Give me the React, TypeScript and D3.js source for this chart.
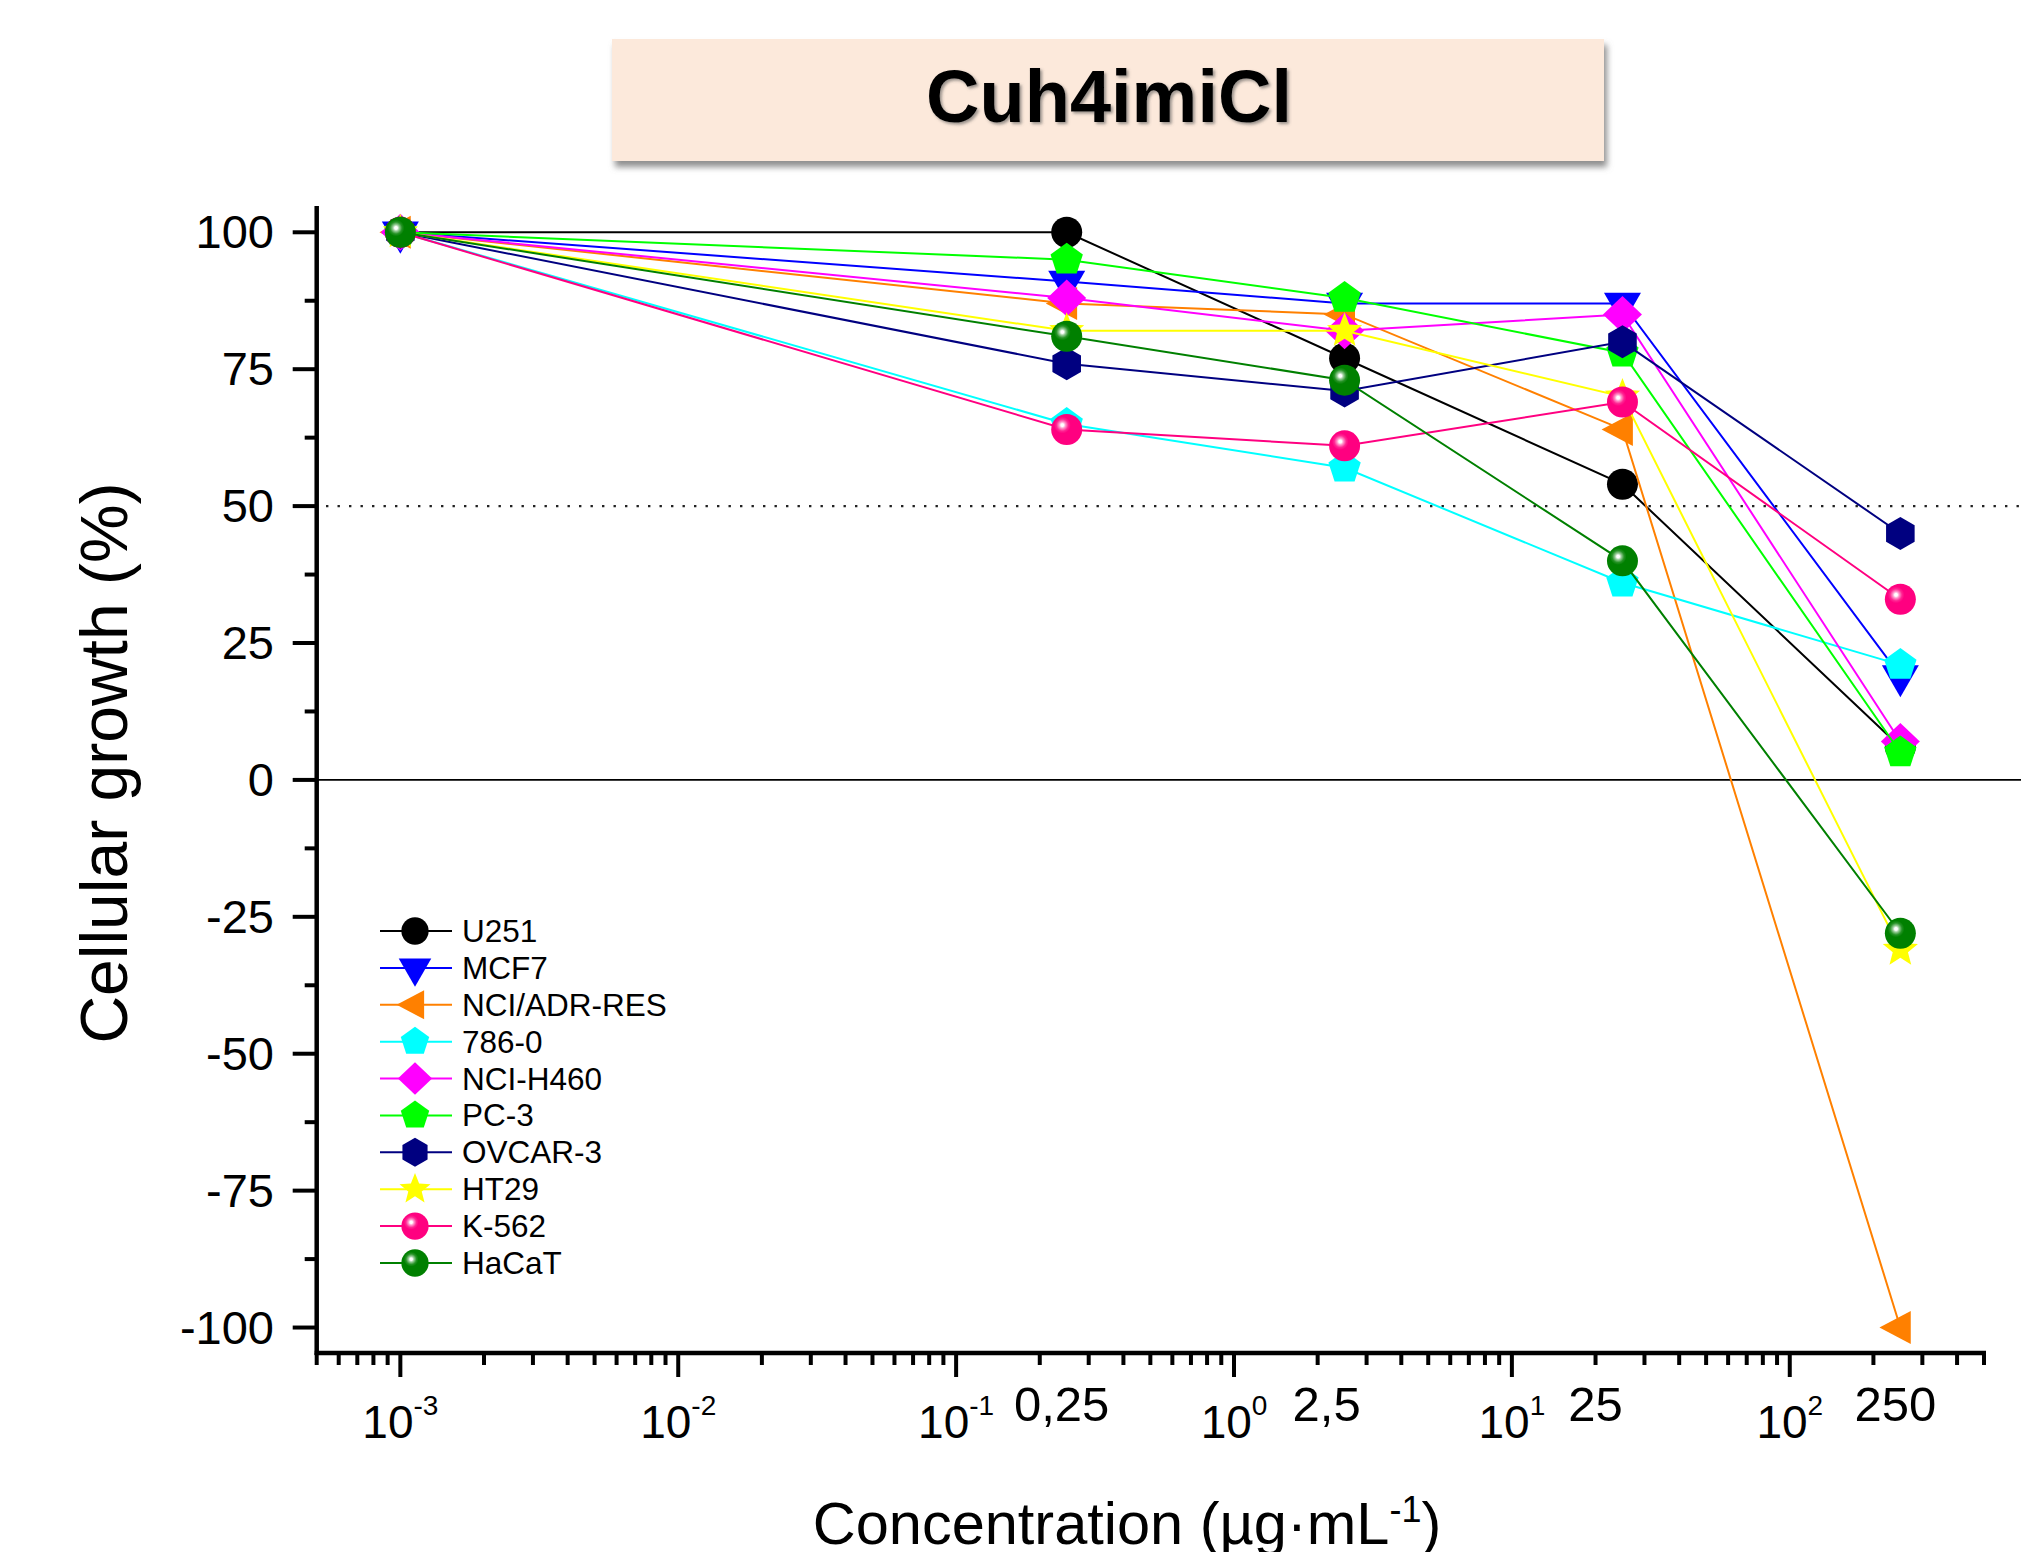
import React from 'react';
import * as d3 from 'd3';

// ---------- data ----------
const concentrations = [0.001, 0.25, 2.5, 25, 250];
const seriesNames = ['U251', 'MCF7', 'NCI/ADR-RES', '786-0', 'NCI-H460', 'PC-3', 'OVCAR-3', 'HT29', 'K-562', 'HaCaT'];
const u251 = [100, 100, 77, 54, 6];
const mcf7 = [100, 91, 87, 87, 19];
const nciAdrRes = [100, 87, 85, 64, -100];
const line7860 = [100, 65, 57, 36, 21];
const nciH460 = [100, 88, 82, 85, 7];
const pc3 = [100, 95, 88, 78, 5];
const ovcar3 = [100, 76, 71, 80, 45];
const ht29 = [100, 82, 82, 70, -31];
const k562 = [100, 64, 61, 69, 33];
const hacat = [100, 81, 73, 40, -28];
const seriesValues = [u251, mcf7, nciAdrRes, line7860, nciH460, pc3, ovcar3, ht29, k562, hacat];

const yTickValues = [-100, -75, -50, -25, 0, 25, 50, 75, 100];
const xDecadeExponents = [-3, -2, -1, 0, 1, 2];
const dataTickValues = [0.25, 2.5, 25, 250];
const dataTickLabels = ['0,25', '2,5', '25', '250'];
const title = 'Cuh4imiCl';
const referenceLine = 50;

// ---------- styles ----------
const colors = ['#000000', '#0000FF', '#FF8000', '#00FFFF', '#FF00FF', '#00FF00', '#000080', '#FFFF00', '#FF0080', '#008000'];
const shapes = ['circle', 'triDown', 'triLeft', 'pentagon', 'diamond', 'pentagon', 'hexagon', 'star', 'sphere', 'sphere'];
const dataTickDx = [-5, -18, -27, -5];
const FONT = '"Liberation Sans", Arial, Helvetica, sans-serif';

function polygon(pts: [number, number][]) {
  return 'M' + pts.map((p) => `${p[0].toFixed(2)},${p[1].toFixed(2)}`).join('L') + 'Z';
}

function regular(n: number, R: number, rot: number) {
  const pts: [number, number][] = [];
  for (let i = 0; i < n; i++) {
    const a = rot + (i * 2 * Math.PI) / n;
    pts.push([R * Math.sin(a), -R * Math.cos(a)]);
  }
  return polygon(pts);
}

function starPath(R: number, r: number) {
  const pts: [number, number][] = [];
  for (let i = 0; i < 10; i++) {
    const a = (i * Math.PI) / 5;
    const rr = i % 2 === 0 ? R : r;
    pts.push([rr * Math.sin(a), -rr * Math.cos(a)]);
  }
  return polygon(pts);
}

function shapePath(shape: string, k: number) {
  switch (shape) {
    case 'triDown':
      return polygon([[-18.5 * k, -10.7 * k], [18.5 * k, -10.7 * k], [0, 21.4 * k]]);
    case 'triLeft':
      return polygon([[-20.9 * k, 0], [10.4 * k, -16.5 * k], [10.4 * k, 16.5 * k]]);
    case 'pentagon':
      return regular(5, 17 * k, 0);
    case 'diamond':
      return polygon([[0, -18.5 * k], [19.5 * k, 0], [0, 18.5 * k], [-19.5 * k, 0]]);
    case 'hexagon':
      return regular(6, 16.5 * k, 0);
    case 'star':
      return starPath(18.5 * k, 8 * k);
    default:
      return '';
  }
}

function Marker({ shape, color, idx, cx, cy, k }: any) {
  if (shape === 'circle') return <circle cx={cx} cy={cy} r={15.5 * k} fill={color} />;
  if (shape === 'sphere') return <circle cx={cx} cy={cy} r={15.5 * k} fill={`url(#sph${idx})`} />;
  return <path d={shapePath(shape, k)} transform={`translate(${cx},${cy})`} fill={color} />;
}

export default function App() {
  const W = 2043;
  const H = 1552;
  const x = d3.scaleLog().domain([5e-4, 500]).range([316.7, 1984]);
  const y = d3.scaleLinear().domain([-104.65, 104.8]).range([1353, 206]);
  const axisY = y(-104.65);
  const axisX = x(5e-4);

  const minorX: number[] = [];
  for (let d = -4; d <= 2; d++) {
    for (let m = 2; m <= 9; m++) {
      const v = m * Math.pow(10, d);
      if (v >= 5e-4 * 0.999 && v <= 500 * 1.001) minorX.push(v);
    }
  }
  const minorY = d3.range(-100, 100.01, 12.5).filter((v) => Math.abs(v % 25) > 1e-6);

  const line = d3
    .line<number>()
    .x((_, i) => x(concentrations[i]))
    .y((v) => y(v));

  const legendY = d3.scalePoint<string>().domain(seriesNames).range([931, 1263]);

  return (
    <svg width={W} height={H} style={{ position: 'absolute', left: 0, top: 0, background: '#fff' }} fontFamily={FONT}>
      <defs>
        <filter id="boxShadow" x="-5%" y="-20%" width="112%" height="150%">
          <feDropShadow dx="3" dy="6" stdDeviation="3" floodColor="#7a7a7a" floodOpacity="0.85" />
        </filter>
        <filter id="textShadow" x="-5%" y="-20%" width="110%" height="140%">
          <feDropShadow dx="2" dy="2" stdDeviation="1.5" floodColor="#555" floodOpacity="0.6" />
        </filter>
        {colors.map((c, i) =>
          shapes[i] === 'sphere' ? (
            <radialGradient key={i} id={`sph${i}`} cx="0.36" cy="0.36" r="0.64" fx="0.36" fy="0.36">
              <stop offset="0" stopColor="#ffffff" />
              <stop offset="0.07" stopColor="#ffffff" />
              <stop offset="0.16" stopColor={d3.interpolateRgb(c, '#ffffff')(0.6)} />
              <stop offset="0.3" stopColor={d3.interpolateRgb(c, '#ffffff')(0.15)} />
              <stop offset="0.42" stopColor={c} />
              <stop offset="1" stopColor={c} />
            </radialGradient>
          ) : null
        )}
      </defs>
      <rect x={0} y={0} width={W} height={H} fill="#fff" />

      {/* title box */}
      <rect x={612} y={39} width={992} height={122} fill="#FCE9DB" filter="url(#boxShadow)" />
      <text x={1109} y={121.7} textAnchor="middle" fontSize={74} fontWeight="bold" fill="#000" filter="url(#textShadow)">
        {title}
      </text>

      {/* reference lines */}
      <line x1={axisX} x2={2021} y1={y(0)} y2={y(0)} stroke="#000" strokeWidth={1.8} />
      <line x1={326} x2={2021} y1={y(referenceLine)} y2={y(referenceLine)} stroke="#222" strokeWidth={2.4} strokeDasharray="2.4 9.1" />

      {/* series */}
      {seriesValues.map((vals, si) => (
        <g key={seriesNames[si]}>
          <path d={line(vals) || ''} fill="none" stroke={colors[si]} strokeWidth={2} />
          {vals.map((v, i) => (
            <Marker key={i} shape={shapes[si]} color={colors[si]} idx={si} cx={x(concentrations[i])} cy={y(v)} k={1} />
          ))}
        </g>
      ))}

      {/* axes */}
      <line x1={axisX} x2={axisX} y1={206} y2={axisY + 2} stroke="#000" strokeWidth={4.5} />
      <line x1={axisX - 2} x2={x(500) + 2} y1={axisY} y2={axisY} stroke="#000" strokeWidth={4.5} />

      {yTickValues.map((v) => (
        <g key={'yt' + v}>
          <line x1={axisX - 24} x2={axisX} y1={y(v)} y2={y(v)} stroke="#000" strokeWidth={4} />
          <text x={274} y={y(v) + 16} textAnchor="end" fontSize={47} fill="#000">
            {String(v)}
          </text>
        </g>
      ))}
      {minorY.map((v) => (
        <line key={'ym' + v} x1={axisX - 12} x2={axisX} y1={y(v)} y2={y(v)} stroke="#000" strokeWidth={4} />
      ))}

      {xDecadeExponents.map((e) => {
        const px = x(Math.pow(10, e));
        return (
          <g key={'xt' + e}>
            <line x1={px} x2={px} y1={axisY} y2={axisY + 24} stroke="#000" strokeWidth={4} />
            <text x={px} y={1438} textAnchor="middle" fontSize={46} fill="#000">
              <tspan>10</tspan>
              <tspan dy={-23} fontSize={28}>{String(e)}</tspan>
            </text>
          </g>
        );
      })}
      {minorX.map((v) => (
        <line key={'xm' + v} x1={x(v)} x2={x(v)} y1={axisY} y2={axisY + 12} stroke="#000" strokeWidth={4} />
      ))}
      {dataTickValues.map((v, i) => (
        <text key={'dl' + i} x={x(v) + dataTickDx[i]} y={1421} textAnchor="middle" fontSize={49} fill="#000">
          {dataTickLabels[i]}
        </text>
      ))}

      {/* axis titles */}
      <text x={1127} y={1544} textAnchor="middle" fontSize={59.5} fill="#000">
        <tspan>Concentration (µg·mL</tspan>
        <tspan dy={-22} fontSize={36}>-1</tspan>
        <tspan dy={22}>)</tspan>
      </text>
      <text transform="translate(127,763) rotate(-90)" textAnchor="middle" fontSize={66} fill="#000">
        Cellular growth (%)
      </text>

      {/* legend */}
      {seriesNames.map((name, i) => {
        const ly = legendY(name) as number;
        return (
          <g key={'lg' + name}>
            <line x1={380} x2={452} y1={ly} y2={ly} stroke={colors[i]} strokeWidth={2} />
            <Marker shape={shapes[i]} color={colors[i]} idx={i} cx={415} cy={ly} k={0.88} />
            <text x={462} y={ly + 11} fontSize={31.5} fill="#000">
              {name}
            </text>
          </g>
        );
      })}
    </svg>
  );
}
